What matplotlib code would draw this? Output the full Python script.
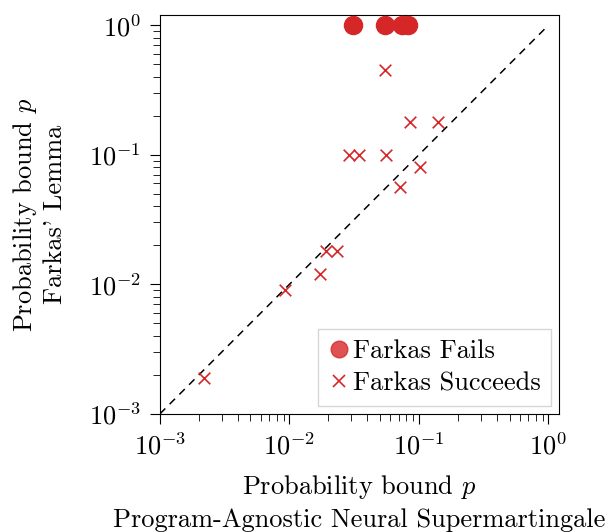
import matplotlib
matplotlib.use("Agg")
import matplotlib.pyplot as plt
from matplotlib.lines import Line2D

plt.rcParams['font.family'] = ['cmr10']
plt.rcParams['mathtext.fontset'] = 'cm'
plt.rcParams['axes.formatter.use_mathtext'] = True
plt.rcParams['axes.unicode_minus'] = False

# Farkas fails (bound reported as 1)
fail_x = [0.031, 0.055, 0.074, 0.083]
fail_y = [1.0, 1.0, 1.0, 1.0]

# Farkas succeeds
succ_x = [0.055, 0.086, 0.140, 0.0287, 0.0345, 0.056, 0.101, 0.072,
          0.0192, 0.0232, 0.0173, 0.0093, 0.0022]
succ_y = [0.45, 0.18, 0.18, 0.10, 0.10, 0.10, 0.080, 0.056,
          0.018, 0.018, 0.012, 0.0091, 0.0019]

diag = [1e-3, 1.0]
red = '#d62728'
fs = 19

fig = plt.figure(figsize=(6.08, 5.32), dpi=100)
ax = fig.add_axes([0.263, 0.222, 0.656, 0.75])

ax.plot(diag, diag, ls=(0, (5, 4)), color='black', lw=1.1, zorder=1)
ax.scatter(fail_x, fail_y, s=170, color=red, zorder=3, clip_on=False)
ax.scatter(succ_x, succ_y, s=70, marker='x', color=red, linewidths=1.2, zorder=3)

ax.set_xscale('log')
ax.set_yscale('log')
ax.set_xlim(1e-3, 1.2)
ax.set_ylim(1e-3, 1.2)

ax.tick_params(axis='both', which='major', labelsize=fs, length=7.5, width=0.8, pad=6)
ax.tick_params(axis='both', which='minor', length=5, width=0.6)

ax.set_xlabel('Probability bound $p$\nProgram-Agnostic Neural Supermartingale', fontsize=fs,
              labelpad=10, linespacing=1.35)
ax.set_ylabel("Probability bound $p$\nFarkas' Lemma", fontsize=fs, labelpad=16)

handles = [
    Line2D([], [], marker='o', ls='none', markersize=12, markerfacecolor=red,
           markeredgecolor=red, alpha=0.8),
    Line2D([], [], marker='x', ls='none', markersize=9, color=red, markeredgewidth=1.2),
]
ax.legend(handles, ['Farkas Fails', 'Farkas Succeeds'], loc='lower right', fontsize=fs,
          handletextpad=0.1, handlelength=0.8, borderaxespad=0.3, borderpad=0.4,
          labelspacing=0.32, fancybox=False, edgecolor='#cccccc', framealpha=0.8)

fig.savefig('out.png', dpi=100)
